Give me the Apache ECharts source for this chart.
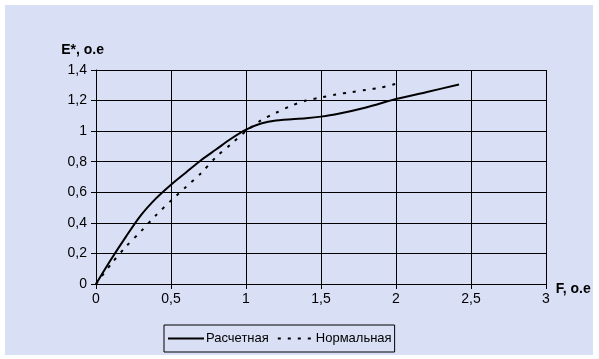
<!DOCTYPE html>
<html><head><meta charset="utf-8">
<script src="https://cdn.jsdelivr.net/npm/echarts@6/dist/echarts.min.js"></script>
<style>html,body{margin:0;padding:0;background:#fff}#c{width:599px;height:359px}</style>
</head><body><div id="c"></div>
<script>
const calcX = [0,0.1,0.2,0.3,0.4,0.5,0.6,0.7,0.8,0.9,1.0,1.1,1.2,1.4,1.5,1.6,1.8,2.0,2.2,2.42];
const calcY = [0,0.16,0.31,0.45,0.56,0.65,0.73,0.81,0.88,0.95,1.01,1.05,1.07,1.085,1.095,1.11,1.155,1.21,1.255,1.305];
const normX = [0,0.1,0.2,0.3,0.4,0.5,0.6,0.7,0.8,0.9,1.0,1.1,1.2,1.3,1.4,1.5,1.6,1.7,1.8,1.9,2.0];
const normY = [0,0.13,0.245,0.345,0.45,0.545,0.635,0.725,0.83,0.915,1.0,1.07,1.12,1.165,1.2,1.22,1.24,1.255,1.27,1.285,1.31];
const xTicks = [0,0.5,1,1.5,2,2.5,3];
const yTicks = [0,0.2,0.4,0.6,0.8,1,1.2,1.4];
const seriesNames = ['Расчетная','Нормальная'];
const fmt = v => String(Math.round(v*10)/10).replace('.',',');
const chart = echarts.init(document.getElementById('c'));
const ff = '"Liberation Sans", Arial, sans-serif';
chart.setOption({
  animation:false,
  backgroundColor:'#ffffff',
  graphic:[{type:'rect',z:-10,shape:{x:5,y:5,width:588,height:350},style:{fill:'#d9dff5'}}],
  grid:{left:96,right:53,top:70,bottom:75,show:false},
  xAxis:{type:'value',min:xTicks[0],max:xTicks[xTicks.length-1],interval:0.5,
    name:'F, o.e',nameLocation:'end',nameGap:6,
    nameTextStyle:{fontFamily:ff,fontSize:14,fontWeight:'bold',color:'#000',align:'left',verticalAlign:'top',padding:[-2,0,0,0]},
    axisLine:{lineStyle:{color:'#000',width:1}},
    axisTick:{show:true,length:5,lineStyle:{color:'#000'}},
    axisLabel:{fontFamily:ff,fontSize:14,color:'#000',margin:8,formatter:fmt},
    splitLine:{show:true,lineStyle:{color:'#000',width:1}}},
  yAxis:{type:'value',min:yTicks[0],max:yTicks[yTicks.length-1],interval:0.2,
    name:'E*, o.e',nameLocation:'end',nameGap:13,
    nameTextStyle:{fontFamily:ff,fontSize:14,fontWeight:'bold',color:'#000',align:'right',padding:[0,-8,0,0]},
    axisLine:{show:true,lineStyle:{color:'#000',width:1}},
    axisTick:{show:true,length:5,lineStyle:{color:'#000'}},
    axisLabel:{fontFamily:ff,fontSize:14,color:'#000',margin:9,formatter:fmt},
    splitLine:{show:true,lineStyle:{color:'#000',width:1}}},
  legend:{show:true,left:164,top:325,itemWidth:36,itemHeight:10,itemGap:8,
    padding:[7,3,7,3],borderColor:'#000',borderWidth:1,backgroundColor:'#d9dff5',borderRadius:0,
    itemStyle:{opacity:0},
    textStyle:{fontFamily:ff,fontSize:13,color:'#000',padding:[0,0,0,-3]},
    data:seriesNames},
  series:[
    {name:seriesNames[0],type:'line',smooth:0.3,symbol:'none',color:'#000',data:calcX.map((x,i)=>[x,calcY[i]]),
      lineStyle:{color:'#000',width:2}},
    {name:seriesNames[1],type:'line',smooth:0.3,symbol:'none',color:'#000',data:normX.map((x,i)=>[x,normY[i]]),
      lineStyle:{color:'#000',width:2,type:[3,7]}}
  ]
});
</script></body></html>
